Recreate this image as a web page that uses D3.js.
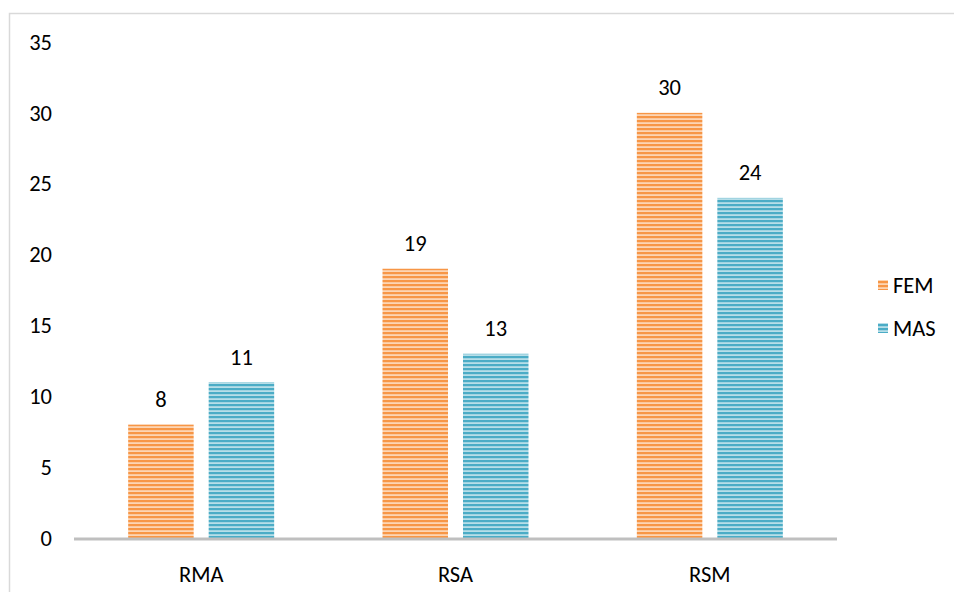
<!DOCTYPE html>
<html>
<head>
<meta charset="utf-8">
<script src="https://cdn.jsdelivr.net/npm/d3@7"></script>
<style>
  html, body { margin: 0; padding: 0; background: #fff; }
  svg { display: block; font-family: Carlito, Calibri, "Open Sans", sans-serif; }
</style>
</head>
<body>
<svg id="chart" width="954" height="592"></svg>
<script>
const categories = ["RMA", "RSA", "RSM"];
const seriesNames = ["FEM", "MAS"];
const femValues = [8, 19, 30];
const masValues = [11, 13, 24];
const yTicks = [0, 5, 10, 15, 20, 25, 30, 35];

const svg = d3.select("#chart");
const W = 954, H = 592;
const FONT = 22.5;
const FAMILY = "Carlito, Calibri, 'Open Sans', sans-serif";

// chart frame
svg.append("rect")
  .attr("x", 9.5).attr("y", 13.5)
  .attr("width", W + 10).attr("height", H + 10)
  .attr("fill", "none").attr("stroke", "#d9d9d9").attr("stroke-width", 1.5);

// striped fills
const defs = svg.append("defs");
const palette = {
  FEM: { dark: "#f79646", light: "#fcd5b4" },
  MAS: { dark: "#4bacc6", light: "#b7dee8" }
};
seriesNames.forEach(name => {
  const p = defs.append("pattern")
    .attr("id", "stripe-" + name)
    .attr("patternUnits", "userSpaceOnUse")
    .attr("width", 8).attr("height", 4);
  p.append("rect").attr("width", 8).attr("height", 4).attr("fill", palette[name].light);
  p.append("rect").attr("y", 0).attr("width", 8).attr("height", 2.2).attr("fill", palette[name].dark);
});

const margin = { left: 74, right: 117 };
const x = d3.scaleBand().domain(categories).range([margin.left, W - margin.right]);
const y = d3.scaleLinear().domain([0, 35]).range([538, 42]);
const barW = 65.5, gap = 15;
// offset of each series bar from the category centre
const xs = d3.scaleOrdinal().domain(seriesNames).range([-(barW + gap / 2), gap / 2]);

// y tick labels (no axis line)
const yAxis = d3.axisLeft(y).tickValues(yTicks).tickSize(0).tickPadding(0);
const gy = svg.append("g").attr("transform", "translate(52,0)").call(yAxis);
gy.select(".domain").remove();
gy.selectAll("text")
  .attr("font-size", FONT).attr("fill", "#000")
  .attr("font-family", FAMILY);

const data = categories.map((c, i) => ({ cat: c, vals: [
  { name: "FEM", v: femValues[i] },
  { name: "MAS", v: masValues[i] }
]}));

const groups = svg.append("g").selectAll("g").data(data).join("g")
  .attr("transform", d => `translate(${x(d.cat) + x.bandwidth() / 2},0)`);

groups.selectAll("rect").data(d => d.vals).join("rect")
  .attr("x", d => xs(d.name))
  .attr("width", barW)
  .attr("y", d => y(d.v))
  .attr("height", d => y(0) - y(d.v))
  .attr("fill", d => `url(#stripe-${d.name})`);

groups.selectAll("text.val").data(d => d.vals).join("text")
  .attr("class", "val")
  .attr("x", d => xs(d.name) + barW / 2)
  .attr("y", d => y(d.v) - 25)
  .attr("text-anchor", "middle")
  .attr("dominant-baseline", "central")
  .attr("font-size", FONT).attr("fill", "#000")
  .text(d => d.v);

// x axis
const xAxis = d3.axisBottom(x).tickSize(0).tickPadding(0);
const gx = svg.append("g").attr("transform", `translate(0,${y(0)})`).call(xAxis);
gx.select(".domain").remove();
gx.append("line")
  .attr("x1", margin.left).attr("x2", W - margin.right)
  .attr("y1", 1).attr("y2", 1)
  .attr("stroke", "#bfbfbf").attr("stroke-width", 3);
gx.selectAll(".tick text")
  .attr("y", 36).attr("dy", null)
  .attr("dominant-baseline", "central")
  .attr("font-size", FONT).attr("fill", "#000")
  .attr("font-family", FAMILY);

// legend
const legend = svg.append("g").selectAll("g").data(seriesNames).join("g")
  .attr("transform", (d, i) => `translate(878,${285 + i * 43})`);
legend.append("rect")
  .attr("x", 0).attr("y", -5).attr("width", 10).attr("height", 10)
  .attr("fill", d => `url(#stripe-${d})`);
legend.append("text")
  .attr("x", 15).attr("y", 0)
  .attr("dominant-baseline", "central")
  .attr("font-size", FONT).attr("fill", "#000")
  .text(d => d);
</script>
</body>
</html>
